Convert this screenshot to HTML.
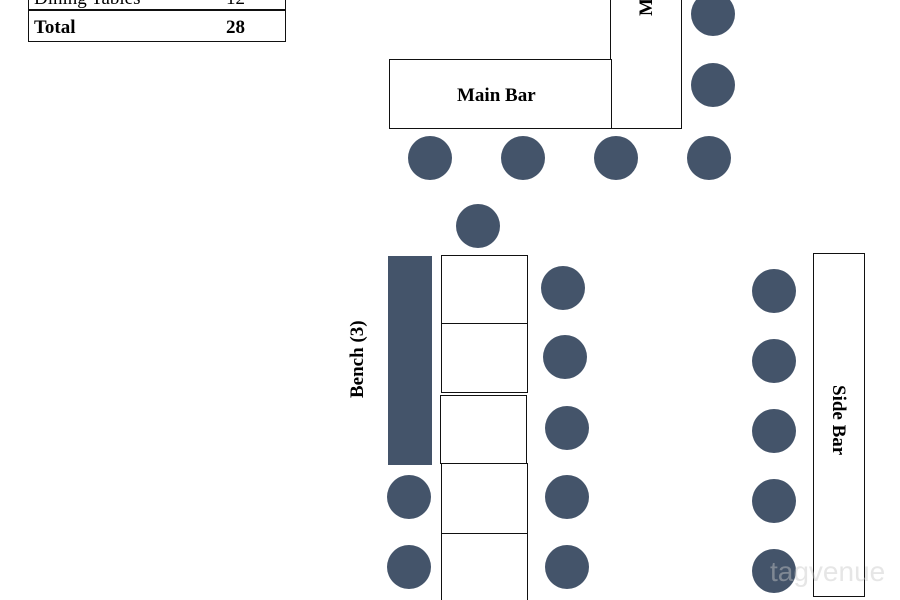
<!DOCTYPE html>
<html><head><meta charset="utf-8"><style>
html,body{margin:0;padding:0;width:900px;height:600px;overflow:hidden;background:#fff;position:relative;font-family:"Liberation Serif",serif}
.c{position:absolute;width:44px;height:44px;border-radius:50%;background:#44546a}
.b{position:absolute;border:1.5px solid #111;background:#fff;box-sizing:border-box}
.t{position:absolute;font-weight:bold;font-size:19px;color:#000;white-space:nowrap}
</style></head><body>
<div style="position:absolute;left:28px;top:-20px;width:258px;height:62px;border:1.5px solid #111;box-sizing:border-box"></div>
<div style="position:absolute;left:28px;top:9px;width:258px;height:2px;background:#111"></div>
<div class="t" style="left:34px;top:-12px;font-weight:normal">Dining Tables</div>
<div class="t" style="left:226px;top:-12px;font-weight:normal">12</div>
<div class="t" style="left:34px;top:17px">Total</div>
<div class="t" style="left:226px;top:17px">28</div>

<div class="b" style="left:610px;top:-4px;width:72px;height:133px"></div>
<div class="t" style="left:636px;top:16px;transform:rotate(-90deg);transform-origin:left top">Main Bar</div>
<div class="b" style="left:389px;top:59px;width:223px;height:70px"></div>
<div class="t" style="left:457px;top:85px">Main Bar</div>
<div class="b" style="left:813px;top:253px;width:52px;height:344px"></div>
<div class="t" style="left:849px;top:385px;transform:rotate(90deg);transform-origin:left top">Side Bar</div>

<div style="position:absolute;left:388px;top:256px;width:44px;height:209px;background:#44546a"></div>
<div class="t" style="left:347px;top:398px;transform:rotate(-90deg);transform-origin:left top">Bench (3)</div>

<div class="b" style="left:441px;top:255px;width:87px;height:70px"></div>
<div class="b" style="left:441px;top:323px;width:87px;height:70px"></div>
<div class="b" style="left:440px;top:395px;width:87px;height:69px"></div>
<div class="b" style="left:441px;top:463px;width:87px;height:71px"></div>
<div class="b" style="left:441px;top:533px;width:87px;height:80px"></div>

<div class="c" style="left:408px;top:136px"></div>
<div class="c" style="left:501px;top:136px"></div>
<div class="c" style="left:594px;top:136px"></div>
<div class="c" style="left:687px;top:136px"></div>
<div class="c" style="left:691px;top:-8px"></div>
<div class="c" style="left:691px;top:63px"></div>
<div class="c" style="left:456px;top:204px"></div>
<div class="c" style="left:541px;top:266px"></div>
<div class="c" style="left:543px;top:335px"></div>
<div class="c" style="left:545px;top:406px"></div>
<div class="c" style="left:545px;top:475px"></div>
<div class="c" style="left:545px;top:545px"></div>
<div class="c" style="left:387px;top:475px"></div>
<div class="c" style="left:387px;top:545px"></div>
<div class="c" style="left:752px;top:269px"></div>
<div class="c" style="left:752px;top:339px"></div>
<div class="c" style="left:752px;top:409px"></div>
<div class="c" style="left:752px;top:479px"></div>
<div class="c" style="left:752px;top:549px"></div>

<div style="position:absolute;left:770px;top:556px;font-family:'Liberation Sans',sans-serif;font-size:28px;color:rgba(200,200,200,0.45)">tagvenue</div>
</body></html>
